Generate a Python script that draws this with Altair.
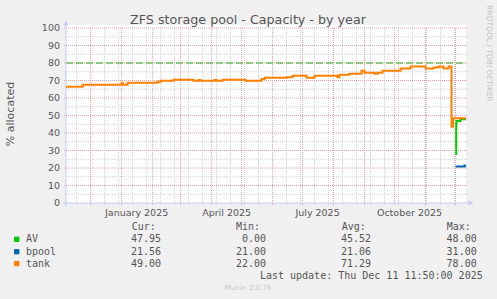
import altair as alt
import pandas as pd

# ---------------- data ----------------
tank_time = ["2024-11-06", "2024-11-23", "2025-01-01", "2025-01-02", "2025-01-07",
             "2025-02-06", "2025-02-09", "2025-02-22", "2025-03-14", "2025-03-19",
             "2025-03-21", "2025-04-04", "2025-04-06", "2025-04-12", "2025-05-05",
             "2025-05-21", "2025-05-24", "2025-06-15", "2025-06-21", "2025-07-05",
             "2025-07-13", "2025-08-05", "2025-08-07", "2025-08-17", "2025-08-29",
             "2025-09-01", "2025-09-11", "2025-09-14", "2025-09-19", "2025-10-07",
             "2025-10-17", "2025-11-01", "2025-11-09", "2025-11-14", "2025-11-19",
             "2025-11-24", "2025-11-27", "2025-11-28 12:00", "2025-12-11 11:50"]
tank_val = [66.5, 67.6, 68.7, 67.6, 68.7,
            69.3, 69.9, 70.5, 69.9, 70.3,
            69.9, 70.3, 69.9, 70.5, 69.9,
            70.8, 71.6, 71.9, 72.7, 71.6,
            72.7, 71.9, 73.3, 73.9, 75.6,
            74.4, 73.9, 74.4, 75.6, 76.8,
            78.0, 76.8, 77.5, 78.0, 76.8,
            78.0, 43.6, 48.5, 49.0]

av_time = ["2025-12-01", "2025-12-01 18:00", "2025-12-02", "2025-12-06", "2025-12-11 11:50"]
av_val = [28.0, 45.5, 46.9, 47.8, 47.95]

bpool_time = ["2025-12-01", "2025-12-10", "2025-12-11 11:50"]
bpool_val = [20.8, 21.5, 21.56]

legend_names = ["AV", "bpool", "tank"]
legend_colors = ["#00cc00", "#0066b3", "#ff8000"]
cur_vals = ["47.95", "21.56", "49.00"]
min_vals = ["0.00", "21.00", "22.00"]
avg_vals = ["45.52", "21.06", "71.29"]
max_vals = ["48.00", "31.00", "78.00"]
col_headers = ["Cur:", "Min:", "Avg:", "Max:"]

month_starts = ["2024-12-01", "2025-01-01", "2025-02-01", "2025-03-01", "2025-04-01",
                "2025-05-01", "2025-06-01", "2025-07-01", "2025-08-01", "2025-09-01",
                "2025-10-01", "2025-11-01", "2025-12-01"]
minor_days = ["2024-11-17", "2024-12-01", "2024-12-15", "2024-12-29", "2025-01-12",
              "2025-01-26", "2025-02-09", "2025-02-23", "2025-03-09", "2025-03-23",
              "2025-04-06", "2025-04-20", "2025-05-04", "2025-05-18", "2025-06-01",
              "2025-06-15", "2025-06-29", "2025-07-13", "2025-07-27", "2025-08-10",
              "2025-08-24", "2025-09-07", "2025-09-21", "2025-10-05", "2025-10-19",
              "2025-11-02", "2025-11-16", "2025-11-30"]
x_label_days = ["2025-01-16", "2025-04-16", "2025-07-16", "2025-10-16"]
x_label_text = ["January 2025", "April 2025", "July 2025", "October 2025"]
y_ticks = [0, 10, 20, 30, 40, 50, 60, 70, 80, 90, 100]
y_major = [10, 20, 30, 40, 50, 60, 70, 80, 90, 100]
y_minor = [5, 15, 25, 35, 45, 55, 65, 75, 85, 95]
warning_level = [80]

title_text = "ZFS storage pool - Capacity - by year"
y_title = "% allocated"
last_update = "Last update: Thu Dec 11 11:50:00 2025"
munin_ver = "Munin 2.0.76"
rrd_credit = "RRDTOOL / TOBI OETIKER"

# ---------------- layout ----------------
L, T, W, H = 66, 25, 400, 178
TOTAL_W, TOTAL_H = 497, 299


def px(x):
    return x - L


def py(y):
    return y - T


TXT = "#555555"
SANS = "DejaVu Sans"
MONO = "DejaVu Sans Mono"
AXIS_COL = "#c8c8f4"

xs = alt.Scale(domain=[alt.DateTime(year=2024, month=11, date=6, hours=8),
                       alt.DateTime(year=2025, month=12, date=11, hours=11, minutes=50)])
ys = alt.Scale(domain=[0, 100 * H / 175.0], nice=False, zero=False)


def to_dt(times):
    return pd.to_datetime(times, format="mixed")


def series_df(times, vals):
    return pd.DataFrame({"t": to_dt(times), "v": vals})


def one(text):
    return pd.DataFrame({"s": [text]})


X = lambda: alt.X("t:T", scale=xs, axis=None)
Y = lambda: alt.Y("v:Q", scale=ys, axis=None)

layers = []

# minor horizontal grid
layers.append(alt.Chart(pd.DataFrame({"v": y_minor})).mark_rule(
    color="#cfcfcf", strokeWidth=1, strokeDash=[1, 1]).encode(
    y=Y(), x=alt.value(0), x2=alt.value(W + 1)))
# minor vertical grid
layers.append(alt.Chart(pd.DataFrame({"t": to_dt(minor_days)})).mark_rule(
    color="#cfcfcf", strokeWidth=1, strokeDash=[1, 1]).encode(
    x=X(), y=alt.value(py(28)), y2=alt.value(py(205))))
# major horizontal grid
layers.append(alt.Chart(pd.DataFrame({"v": y_major})).mark_rule(
    color="#eaa0a0", strokeWidth=1, strokeDash=[1, 1]).encode(
    y=Y(), x=alt.value(-2), x2=alt.value(W + 1)))
# major vertical grid
layers.append(alt.Chart(pd.DataFrame({"t": to_dt(month_starts)})).mark_rule(
    color="#eaa0a0", strokeWidth=1, strokeDash=[1, 1]).encode(
    x=X(), y=alt.value(py(28)), y2=alt.value(py(206))))

# warning line
layers.append(alt.Chart(pd.DataFrame({"v": warning_level})).mark_rule(
    color="#22aa22", strokeWidth=1.2, strokeDash=[7, 3]).encode(
    y=Y(), x=alt.value(0), x2=alt.value(W)))

# axes lines + arrows
layers.append(alt.Chart(one("a")).mark_rule(color=AXIS_COL, strokeWidth=1).encode(
    x=alt.value(0), y=alt.value(py(24)), y2=alt.value(py(206))))
layers.append(alt.Chart(one("a")).mark_rule(color=AXIS_COL, strokeWidth=1).encode(
    y=alt.value(py(203)), x=alt.value(px(63)), x2=alt.value(px(469))))
layers.append(alt.Chart(one("a")).mark_point(
    shape="triangle-up", filled=True, color=AXIS_COL, size=30, opacity=1).encode(
    x=alt.value(0), y=alt.value(py(23))))
layers.append(alt.Chart(one("a")).mark_point(
    shape="triangle-right", filled=True, color=AXIS_COL, size=30, opacity=1).encode(
    x=alt.value(px(471)), y=alt.value(py(203))))

# data lines
for times, vals, col in [(av_time, av_val, legend_colors[0]),
                         (bpool_time, bpool_val, legend_colors[1]),
                         (tank_time, tank_val, legend_colors[2])]:
    layers.append(alt.Chart(series_df(times, vals)).mark_line(
        interpolate="step-after", strokeWidth=2, color=col, clip=True).encode(
        x=X(), y=Y()))

# y tick labels
layers.append(alt.Chart(pd.DataFrame({"v": y_ticks})).mark_text(
    align="right", baseline="middle", font=SANS, fontSize=9.5, color=TXT).encode(
    y=Y(), x=alt.value(px(60)), text="v:Q"))
# x labels
layers.append(alt.Chart(pd.DataFrame({"t": to_dt(x_label_days),
                                      "s": x_label_text})).mark_text(
    align="center", baseline="middle", font=SANS, fontSize=9.5, color=TXT).encode(
    x=X(), y=alt.value(py(212.7)), text="s:N"))

# title
layers.append(alt.Chart(one(title_text)).mark_text(
    align="center", baseline="middle", font=SANS, fontSize=12.7, color=TXT).encode(
    x=alt.value(px(248)), y=alt.value(py(19.5)), text="s:N"))
# y title
layers.append(alt.Chart(one(y_title)).mark_text(
    align="center", baseline="middle", font=SANS, fontSize=11, color=TXT, angle=270).encode(
    x=alt.value(px(10.5)), y=alt.value(py(114)), text="s:N"))
# rrdtool credit
layers.append(alt.Chart(one(rrd_credit)).mark_text(
    align="center", baseline="middle", font=SANS, fontSize=7.5, color="#c4c4c4", angle=90).encode(
    x=alt.value(px(488.5)), y=alt.value(py(53.5)), text="s:N"))

# legend table
leg = pd.DataFrame({"name": legend_names, "color": legend_colors,
                    "cur": cur_vals, "mn": min_vals, "avg": avg_vals, "mx": max_vals,
                    "ypix": [py(239.3), py(251.7), py(263.6)]})
YL = alt.Y("ypix:Q", scale=None)
layers.append(alt.Chart(leg).mark_square(size=28, opacity=1).encode(
    x=alt.value(px(16.7)), y=YL, color=alt.Color("color:N", scale=None)))
layers.append(alt.Chart(leg).mark_text(
    align="left", baseline="middle", font=MONO, fontSize=10, color=TXT).encode(
    x=alt.value(px(26)), y=YL, text="name:N"))
for field, xr in [("cur", 161), ("mn", 266), ("avg", 371), ("mx", 476.7)]:
    layers.append(alt.Chart(leg).mark_text(
        align="right", baseline="middle", font=MONO, fontSize=10, color=TXT).encode(
        x=alt.value(px(xr)), y=YL, text=f"{field}:N"))
hdr = pd.DataFrame({"s": col_headers, "xpix": [px(131.7), px(236), px(341.7), px(446.7)]})
layers.append(alt.Chart(hdr).mark_text(
    align="left", baseline="middle", font=MONO, fontSize=10, color=TXT).encode(
    x=alt.X("xpix:Q", scale=None), y=alt.value(py(227.3)), text="s:N"))
layers.append(alt.Chart(one(last_update)).mark_text(
    align="right", baseline="middle", font=MONO, fontSize=10, color=TXT).encode(
    x=alt.value(px(482.7)), y=alt.value(py(275.5)), text="s:N"))
layers.append(alt.Chart(one(munin_ver)).mark_text(
    align="center", baseline="middle", font=SANS, fontSize=7.2, color="#c8c8c8").encode(
    x=alt.value(px(248)), y=alt.value(py(288.3)), text="s:N"))

chart = alt.layer(*layers).properties(
    width=W, height=H,
    autosize="none",
    padding={"left": L, "top": T, "right": TOTAL_W - L - W, "bottom": TOTAL_H - T - H},
    background="#f0f0f0",
).configure_view(fill="white", strokeWidth=0)

chart.save("out.html", embed_options={"renderer": "svg", "actions": False})
